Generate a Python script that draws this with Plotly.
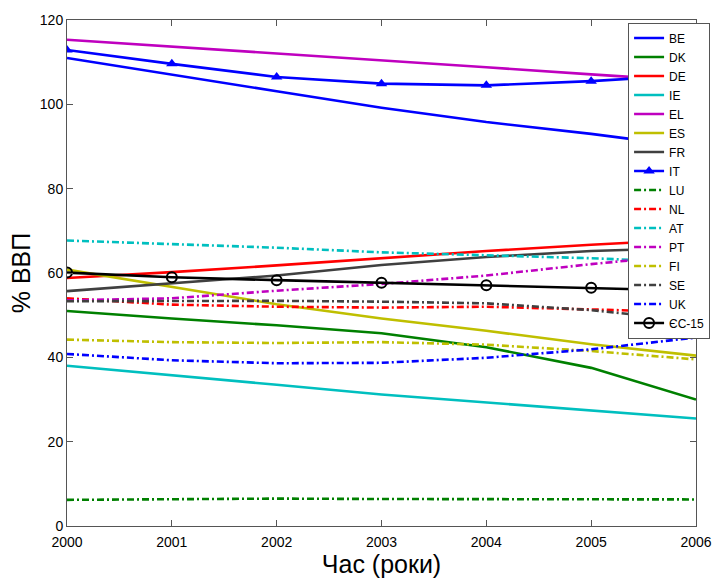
import plotly.graph_objects as go

years = [2000, 2001, 2002, 2003, 2004, 2005, 2006]

BE = [111.0, 107.0, 103.1, 99.2, 95.8, 93.0, 89.8]
DK = [51.0, 49.2, 47.6, 45.7, 42.4, 37.5, 30.0]
DE = [58.8, 60.2, 61.8, 63.5, 65.2, 66.7, 68.0]
IE = [38.0, 35.8, 33.5, 31.2, 29.3, 27.4, 25.5]
EL = [115.3, 113.7, 112.0, 110.4, 108.8, 107.1, 105.5]
ES = [60.8, 56.7, 52.6, 49.2, 46.3, 43.1, 40.4]
FR = [55.7, 57.5, 59.4, 61.9, 63.8, 65.2, 66.0]
IT = [112.9, 109.6, 106.5, 104.9, 104.5, 105.5, 107.0]
LU = [6.2, 6.3, 6.5, 6.4, 6.4, 6.3, 6.3]
NL = [54.0, 52.5, 52.0, 51.8, 52.0, 51.4, 50.7]
AT = [67.7, 66.8, 66.0, 64.9, 64.2, 63.5, 62.5]
PT = [53.5, 54.0, 55.8, 57.4, 59.4, 62.1, 64.5]
FI = [44.2, 43.6, 43.4, 43.6, 43.0, 41.5, 39.5]
SE = [53.3, 53.4, 53.4, 53.2, 52.8, 51.2, 48.6]
UK = [40.8, 39.3, 38.6, 38.7, 39.9, 41.9, 44.7]
EC15 = [60.1, 59.0, 58.3, 57.7, 57.1, 56.5, 55.8]

DASHDOT = "7px,3px,2px,3px"

series = [
    ("BE", BE, "#0000FF", "solid", None),
    ("DK", DK, "#008000", "solid", None),
    ("DE", DE, "#FF0000", "solid", None),
    ("IE", IE, "#00BFBF", "solid", None),
    ("EL", EL, "#BF00BF", "solid", None),
    ("ES", ES, "#BFBF00", "solid", None),
    ("FR", FR, "#404040", "solid", None),
    ("IT", IT, "#0000FF", "solid", "triangle-up"),
    ("LU", LU, "#008000", DASHDOT, None),
    ("NL", NL, "#FF0000", DASHDOT, None),
    ("AT", AT, "#00BFBF", DASHDOT, None),
    ("PT", PT, "#BF00BF", DASHDOT, None),
    ("FI", FI, "#BFBF00", DASHDOT, None),
    ("SE", SE, "#404040", DASHDOT, None),
    ("UK", UK, "#0000FF", DASHDOT, None),
    ("ЄС-15", EC15, "#000000", "solid", "circle-open"),
]

fig = go.Figure()
for name, vals, color, dash, marker in series:
    kw = {}
    if marker:
        mode = "lines+markers"
        if marker == "circle-open":
            kw["marker"] = dict(symbol="circle-open", size=10, color=color, line=dict(width=2, color=color))
        else:
            kw["marker"] = dict(symbol=marker, size=10, color=color)
    else:
        mode = "lines"
    fig.add_trace(go.Scatter(x=years, y=vals, name=name, mode=mode,
                             line=dict(color=color, width=2.6, dash=dash), **kw))

axis_common = dict(showline=True, linecolor="#555555", linewidth=1, mirror="ticks",
                   ticks="inside", ticklen=6, tickcolor="#555555", showgrid=False,
                   zeroline=False, tickfont=dict(size=14, color="#000000"))

fig.update_layout(
    width=726, height=585,
    margin=dict(l=67, r=30, t=15, b=59),
    paper_bgcolor="white", plot_bgcolor="white",
    font=dict(family="Arial, Liberation Sans, sans-serif", color="#000000"),
    xaxis=dict(range=[2000, 2006], dtick=1, ticklabelstandoff=3,
               title=dict(text="Час (роки)", font=dict(size=25), standoff=4),
               **axis_common),
    yaxis=dict(range=[0, 120], dtick=20,
               title=dict(text="% ВВП", font=dict(size=25), standoff=2),
               **axis_common),
    legend=dict(x=0.892, xanchor="left", y=0.995, yanchor="top", bgcolor="white",
                bordercolor="#555555", borderwidth=1, font=dict(size=12),
                tracegroupgap=0, itemwidth=30),
)

fig.write_html("out.html", config={"displayModeBar": False},
               post_script="document.body.style.margin='0';document.body.style.overflow='hidden';")
